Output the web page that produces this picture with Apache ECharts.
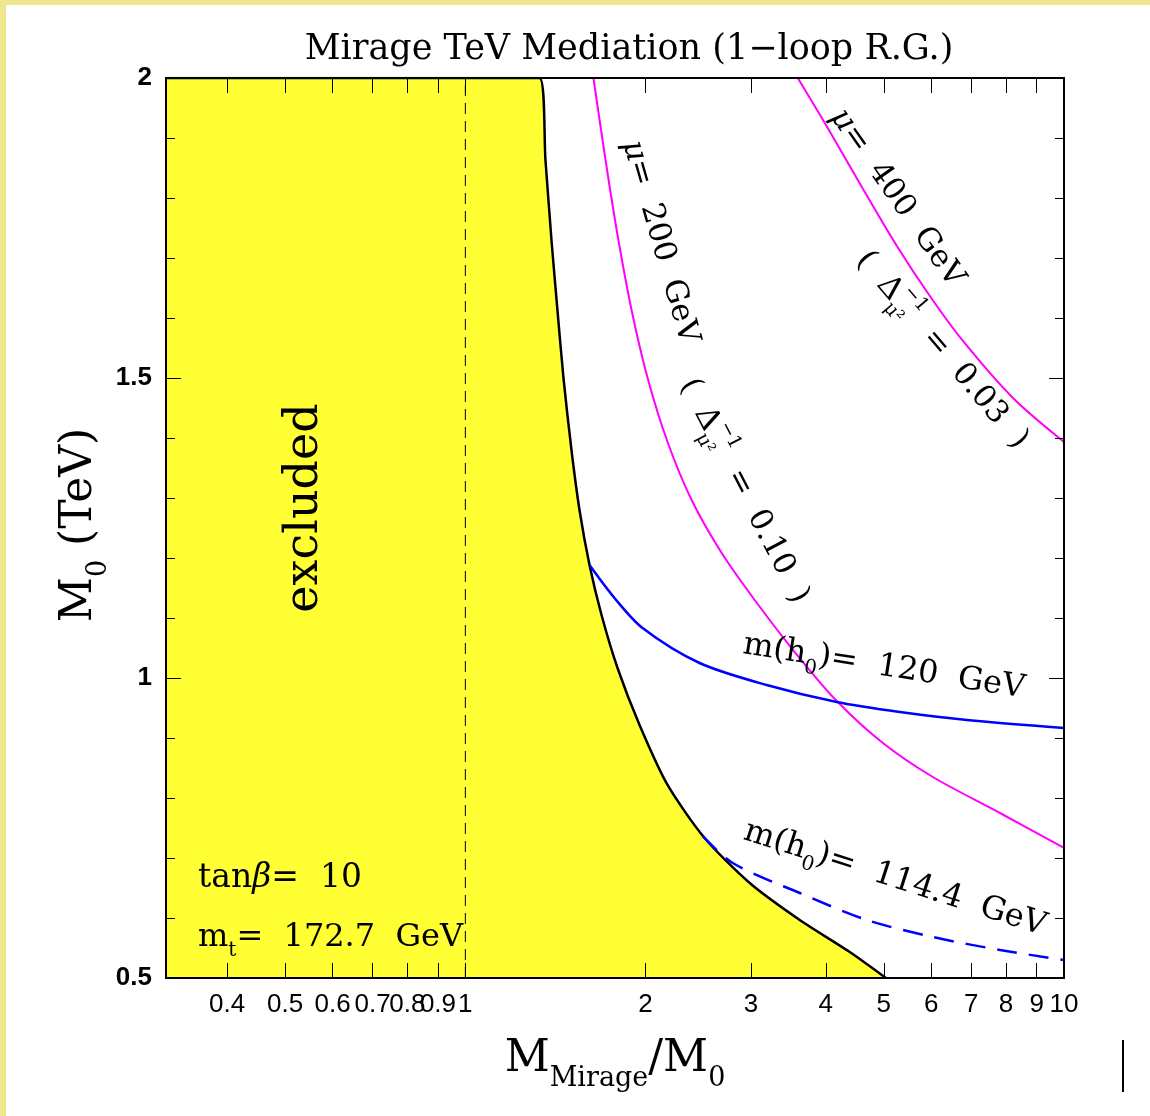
<!DOCTYPE html>
<html lang="en">
<head>
<meta charset="UTF-8">
<script src="https://cdn.jsdelivr.net/npm/echarts@6/dist/echarts.min.js"></script>
<title>Mirage TeV Mediation</title>
<style>html,body{margin:0;padding:0;background:#fff;}</style>
</head>
<body>
<div id="main" style="width:1150px;height:1116px;"></div>
<script type="text/javascript">
// axis ticks (M_Mirage/M_0, log scale)
var xTicks = [0.4, 0.5, 0.6, 0.7, 0.8, 0.9, 1, 2, 3, 4, 5, 6, 7, 8, 9, 10];

// excluded region boundary
var boundaryX = [0.3162, 1.3298, 1.3609, 1.3927, 1.4251, 1.4585, 1.5041, 1.5512, 1.6121, 1.6884, 1.7956, 1.9543, 2.1767, 2.5099, 2.9854, 3.6185, 4.3866, 5.0405];
var boundaryY = [2.0, 2.0, 1.8633, 1.73, 1.6133, 1.5, 1.38, 1.28, 1.1883, 1.105, 1.0167, 0.9217, 0.8217, 0.7333, 0.6583, 0.5967, 0.5433, 0.5];

// mu = 200 GeV
var mu200X = [1.6367, 1.7146, 1.7956, 1.8951, 2.0158, 2.1767, 2.3875, 2.6805, 3.0431, 3.5495, 4.1729, 4.9826, 6.0387, 7.8166, 10];
var mu200Y = [2.0, 1.8633, 1.7383, 1.6133, 1.5, 1.3933, 1.2967, 1.2083, 1.13, 1.0433, 0.9617, 0.8917, 0.835, 0.775, 0.7167];

// mu = 400 GeV
var mu400X = [3.5915, 4.0306, 4.5951, 5.2578, 5.9692, 6.7798, 8.2178, 10];
var mu400Y = [2.0, 1.9167, 1.8183, 1.72, 1.6367, 1.5617, 1.4667, 1.3933];

// m(h0) = 120 GeV
var h120X = [1.6121, 1.7749, 1.977, 2.462, 3.1866, 4.1729, 5.3189, 6.8848, 10];
var h120Y = [1.1883, 1.1333, 1.0833, 1.025, 0.9883, 0.96, 0.9433, 0.93, 0.9167];

// m(h0) = 114.4 GeV
var h114X = [2.4906, 2.796, 3.6185, 4.6843, 6.0387, 7.8166, 10];
var h114Y = [0.7367, 0.6917, 0.6417, 0.5967, 0.5683, 0.5467, 0.53];

function pairs(xs, ys) {
    return xs.map(function (x, i) { return [x, ys[i]]; });
}

var serif = '"DejaVu Serif", serif';
var myChart = echarts.init(document.getElementById('main'));

// width of a string, used to stack sub/superscripts
var measureCtx = document.createElement('canvas').getContext('2d');
function textWidth(str, size) {
    measureCtx.font = size + 'px ' + serif;
    return measureCtx.measureText(str).width;
}

function xAxisCfg(pos, showLabel) {
    return {
        type: 'log',
        logBase: 10,
        min: 0.3162,
        max: 10,
        position: pos,
        z: 10,
        axisLine: { show: true, onZero: false, lineStyle: { color: '#000', width: 2 } },
        axisTick: { show: true, inside: true, length: 15, customValues: xTicks, lineStyle: { color: '#000', width: 1 } },
        axisLabel: {
            show: showLabel,
            customValues: xTicks,
            color: '#000',
            fontFamily: '"Liberation Sans", sans-serif',
            fontSize: 26,
            margin: 14,
            formatter: function (v) { return String(+(+v).toPrecision(3)); }
        },
        splitLine: { show: false },
        minorTick: { show: false }
    };
}

function yAxisCfg(pos, showLabel) {
    return {
        type: 'value',
        min: 0.5,
        max: 2,
        interval: 0.5,
        position: pos,
        z: 10,
        axisLine: { show: true, onZero: false, lineStyle: { color: '#000', width: 2 } },
        axisTick: { show: true, inside: true, length: 15, lineStyle: { color: '#000', width: 1 } },
        minorTick: { show: true, splitNumber: 5, length: 9, lineStyle: { color: '#000', width: 1 } },
        axisLabel: {
            show: showLabel,
            color: '#000',
            fontFamily: '"Liberation Sans", sans-serif',
            fontWeight: 'bold',
            fontSize: 26,
            margin: 14
        },
        splitLine: { show: false }
    };
}

function richSet(size) {
    var small = Math.round(size * 0.62);
    var lh = Math.round(size * 1.45);
    return {
        n: { fontSize: size, fontFamily: serif, fill: '#000', lineHeight: lh },
        i: { fontSize: size, fontFamily: serif, fontStyle: 'italic', fill: '#000', lineHeight: lh },
        sb: { fontSize: small, fontFamily: serif, verticalAlign: 'bottom', fill: '#000', lineHeight: small },
        sp: { fontSize: small, fontFamily: serif, verticalAlign: 'top', fill: '#000', lineHeight: small },
        // superscript pulled back over the preceding subscript
        spk: { fontSize: small, fontFamily: serif, verticalAlign: 'top', fill: '#000', lineHeight: small,
               padding: [0, 0, 0, -textWidth('\u03bc\u00b2', small)] }
    };
}

function label(text, x, y, deg, size) {
    return {
        type: 'text',
        x: x, y: y,
        rotation: deg * Math.PI / 180,
        z: 100,
        style: {
            text: text,
            fill: '#000',
            font: size + 'px ' + serif,
            align: 'center',
            verticalAlign: 'middle',
            rich: richSet(size)
        }
    };
}

var option = {
    backgroundColor: '#ffffff',
    animation: false,
    grid: { left: 166, right: 86, top: 78, bottom: 138, containLabel: false },
    xAxis: [xAxisCfg('bottom', true), xAxisCfg('top', false)],
    yAxis: [yAxisCfg('left', true), yAxisCfg('right', false)],
    series: [
        {
            name: 'excluded',
            type: 'line',
            data: pairs(boundaryX, boundaryY),
            showSymbol: false,
            smooth: 0.25,
            lineStyle: { color: '#000', width: 2.5 },
            areaStyle: { color: '#ffff33', opacity: 1, origin: 'start' },
            z: 2
        },
        {
            name: 'x=1',
            type: 'line',
            data: [[1, 0.5], [1, 2]],
            showSymbol: false,
            lineStyle: { color: '#000', width: 1, type: [11, 7] },
            z: 3
        },
        {
            name: 'mu200',
            type: 'line',
            data: pairs(mu200X, mu200Y),
            showSymbol: false,
            smooth: 0.3,
            lineStyle: { color: '#ff00ff', width: 2 },
            z: 4
        },
        {
            name: 'mu400',
            type: 'line',
            data: pairs(mu400X, mu400Y),
            showSymbol: false,
            smooth: 0.3,
            lineStyle: { color: '#ff00ff', width: 2 },
            z: 4
        },
        {
            name: 'h120',
            type: 'line',
            data: pairs(h120X, h120Y),
            showSymbol: false,
            smooth: 0.3,
            lineStyle: { color: '#0000ff', width: 2.5 },
            z: 4
        },
        {
            name: 'h114',
            type: 'line',
            data: pairs(h114X, h114Y),
            showSymbol: false,
            smooth: 0.3,
            lineStyle: { color: '#0000ff', width: 2.5, type: [20, 12] },
            z: 4
        }
    ],
    graphic: [
        { type: 'rect', shape: { x: 0, y: 0, width: 6, height: 1116 }, style: { fill: '#f0e68c' }, z: 100 },
        { type: 'rect', shape: { x: 0, y: 0, width: 1150, height: 5 }, style: { fill: '#f0e68c' }, z: 100 },
        { type: 'line', shape: { x1: 1123, y1: 1040, x2: 1123, y2: 1092 }, style: { stroke: '#000', lineWidth: 2 }, z: 100 },
        label('Mirage TeV Mediation (1\u2212loop R.G.)', 629, 50, 0, 35),
        label('{n|M}{sb|Mirage}{n|/M}{sb|0}', 615, 1060, 0, 44),
        label('{n|M}{sb|0}{n| (TeV)}', 80, 525, 90, 44),
        label('excluded', 305, 508, 90, 46),
        {
            type: 'text', left: 198, top: 862, z: 100,
            style: { text: '{n|tan}{i|\u03b2}{n|=  10}', fill: '#000', font: '33px ' + serif, rich: richSet(33) }
        },
        {
            type: 'text', left: 198, top: 922, z: 100,
            style: { text: '{n|m}{sb|t}{n|=  172.7  GeV}', fill: '#000', font: '32px ' + serif, rich: richSet(32) }
        },
        label('{i|\u03bc}{n|=  200  GeV}', 660, 242, -74, 31),
        label('{n|(  \u0394}{sb|\u03bc\u00b2}{spk|\u22121}{n|  =  0.10  )}', 744, 491, -62.7, 31),
        label('{i|\u03bc}{n|=  400  GeV}', 897, 198, -55, 31),
        label('{n|(  \u0394}{sb|\u03bc\u00b2}{spk|\u22121}{n|  =  0.03  )}', 942, 350, -49.7, 31),
        label('{n|m(h}{sb|0}{n|)=  120  GeV}', 884, 667, -9, 32),
        label('{n|m(h}{sb|0}{n|)=  114.4  GeV}', 895, 879, -17.8, 32)
    ]
};

myChart.setOption(option);
</script>
</body>
</html>
